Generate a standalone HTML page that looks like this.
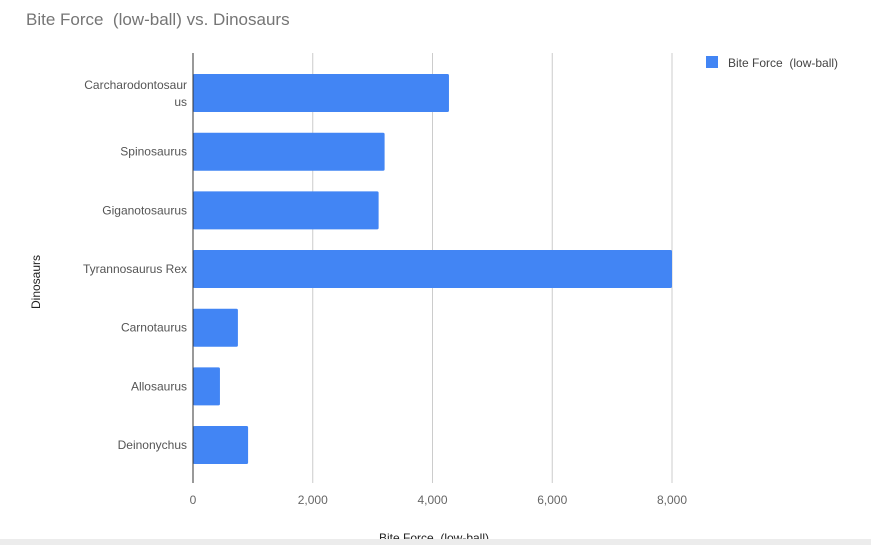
<!DOCTYPE html>
<html><head><meta charset="utf-8"><style>
body{margin:0;background:#fff;width:871px;height:545px;overflow:hidden;font-family:"Liberation Sans",sans-serif}
text{white-space:pre}
</style></head><body>
<svg width="871" height="545" id="chart">
<rect x="0" y="0" width="871" height="545" fill="#fff"/>
<text x="26" y="25" font-size="17" fill="#757575">Bite Force  (low-ball) vs. Dinosaurs</text>
<g id="grid"></g>
<g id="bars"></g>
<g id="ylabels"></g>
<g id="xlabels"></g>
<line x1="193" y1="53" x2="193" y2="483" stroke="#333" stroke-width="1"/>
<text x="40" y="282" font-size="12" fill="#222" transform="rotate(-90 40 282)" text-anchor="middle">Dinosaurs</text>
<text x="434" y="542" font-size="12" fill="#222" text-anchor="middle">Bite Force  (low-ball)</text>
<g>
<rect x="706" y="56" width="12" height="12" fill="#4285f4"/>
<text x="728" y="67" font-size="12" fill="#444">Bite Force  (low-ball)</text>
</g>
<rect x="0" y="539" width="871" height="6" fill="#ececec"/>
</svg>
<script>
const categories=["Carcharodontosaurus","Spinosaurus","Giganotosaurus","Tyrannosaurus Rex","Carnotaurus","Allosaurus","Deinonychus"];
const values=[4275,3200,3100,8000,750,450,920];
const ticks=[0,2000,4000,6000,8000];
const tickLabels=["0","2,000","4,000","6,000","8,000"];
const NS="http://www.w3.org/2000/svg";
const x0=193,pxPer=(672-193)/8000;
function xs(v){return x0+v*pxPer;}
const plotTop=63.7,step=58.67,bh=38;
function yc(i){return plotTop+step*(i+0.5);}
const grid=document.getElementById('grid'),bars=document.getElementById('bars'),yl=document.getElementById('ylabels'),xl=document.getElementById('xlabels');
ticks.forEach((t,i)=>{
 if(t>0){const l=document.createElementNS(NS,'line');
 l.setAttribute('x1',xs(t));l.setAttribute('x2',xs(t));l.setAttribute('y1',53);l.setAttribute('y2',483);
 l.setAttribute('stroke','#ccc');
 
 
 grid.appendChild(l);}
 const tx=document.createElementNS(NS,'text');
 tx.setAttribute('x',xs(t));tx.setAttribute('y',504);tx.setAttribute('font-size','12');tx.setAttribute('fill','#666');tx.setAttribute('text-anchor','middle');
 tx.textContent=tickLabels[i];
 
 
 xl.appendChild(tx);
});
categories.forEach((c,i)=>{
 const r=document.createElementNS(NS,'rect');
 r.setAttribute('x',x0);r.setAttribute('y',yc(i)-bh/2);r.setAttribute('width',xs(values[i])-x0);r.setAttribute('height',bh);r.setAttribute('fill','#4285f4');r.setAttribute('rx','1.5');
 
 
 bars.appendChild(r);
 const t=document.createElementNS(NS,'text');
 t.setAttribute('font-size','12');t.setAttribute('fill','#555');t.setAttribute('text-anchor','end');
 
 
 if(c.length>18){
  const a=document.createElementNS(NS,'tspan');a.setAttribute('x',187);a.setAttribute('y',yc(i)-4);a.textContent=c.slice(0,17);
  const b=document.createElementNS(NS,'tspan');b.setAttribute('x',187);b.setAttribute('y',yc(i)+13);b.textContent=c.slice(17);
  t.appendChild(a);t.appendChild(b);
 }else{t.setAttribute('x',187);t.setAttribute('y',yc(i)+4);t.textContent=c;}
 yl.appendChild(t);
});
</script>
</body></html>
